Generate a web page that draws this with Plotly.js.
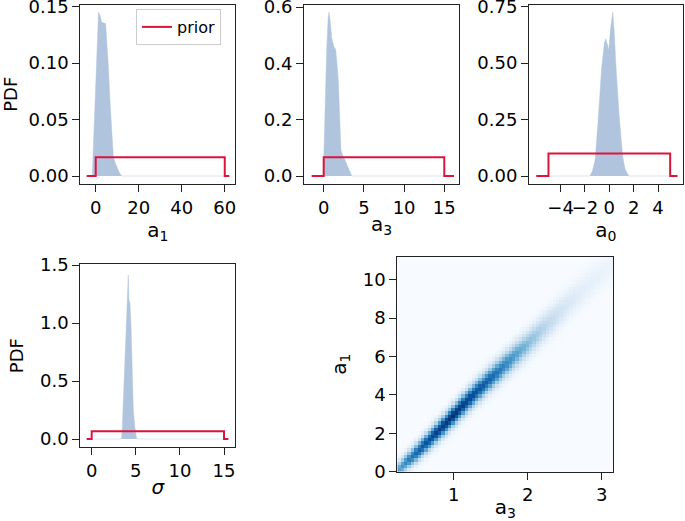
<!DOCTYPE html>
<html>
<head>
<meta charset="utf-8">
<script src="https://cdn.plot.ly/plotly-3.0.1.min.js"></script>
<style>
  html, body { margin: 0; padding: 0; background: #ffffff; }
  #chart { width: 685px; height: 521px; }
</style>
</head>
<body>
<div id="chart"></div>
<script>
// ---- Posterior PDFs ----
const a1X   = [-1.6, -1.0, -0.3, 0.4, 1.0, 1.3, 2.0, 2.8, 4.6, 5.2, 5.9, 6.6, 7.4, 8.2, 9.0, 9.8, 11.0, 12.1, 62.1];
const a1Pdf = [0, 0.03, 0.07, 0.115, 0.142, 0.145, 0.142, 0.136, 0.135, 0.12, 0.097, 0.068, 0.038, 0.017, 0.012, 0.008, 0.003, 0, 0];

const a3X   = [-0.05, 0.05, 0.16, 0.37, 0.55, 0.66, 0.8, 1.0, 1.28, 1.49, 1.65, 1.82, 2.0, 2.15, 2.4, 2.65, 3.06, 3.5, 16.2];
const a3Pdf = [0, 0.1, 0.27, 0.446, 0.56, 0.582, 0.55, 0.49, 0.458, 0.45, 0.4, 0.34, 0.2, 0.092, 0.07, 0.057, 0.028, 0, 0];

const a0X   = [-6.0, -1.6, -1.4, -1.17, -0.9, -0.63, -0.4, -0.3, -0.15, -0.05, 0.1, 0.28, 0.4, 0.55, 0.82, 1.1, 1.3, 1.6, 5.6];
const a0Pdf = [0, 0, 0.02, 0.07, 0.26, 0.48, 0.59, 0.607, 0.58, 0.556, 0.65, 0.725, 0.64, 0.48, 0.26, 0.085, 0.03, 0, 0];

const sigX   = [-0.57, 3.38, 3.47, 3.62, 3.78, 3.9, 4.0, 4.1, 4.15, 4.22, 4.34, 4.46, 4.6, 4.72, 4.9, 5.1, 15.5];
const sigPdf = [0, 0, 0.1, 0.4, 0.68, 0.95, 1.2, 1.38, 1.414, 1.2, 1.17, 0.97, 0.6, 0.25, 0.1, 0, 0];

// ---- Uniform priors (step lines, 'hv') ----
const priorA1X = [-4.2, 0, 60, 62.1];
const priorA1Y = [0, 1/60, 0, 0];
const priorA3X = [-1.5, 0, 15, 16.2];
const priorA3Y = [0, 1/15, 0, 0];
const priorA0X = [-6.0, -5, 5, 5.6];
const priorA0Y = [0, 0.1, 0, 0];
const priorSigX = [-0.57, 0, 15, 15.5];
const priorSigY = [0, 1/15, 0, 0];

// ---- Joint a3–a1 density ridge ----
const ridgeA3    = [0.24, 0.5, 0.75, 1.0, 1.25, 1.5, 1.75, 2.0, 2.25, 2.5, 2.75, 3.0, 3.16];
const ridgeA1    = [0.05, 1.0, 1.95, 2.95, 3.95, 4.85, 5.75, 6.65, 7.6, 8.55, 9.45, 10.3, 10.85];
const ridgePeak  = [0.55, 0.8, 0.93, 1.0, 0.9, 0.8, 0.64, 0.45, 0.28, 0.16, 0.1, 0.07, 0.05];
const ridgeWidth = [0.3, 0.33, 0.36, 0.38, 0.4, 0.42, 0.44, 0.46, 0.5, 0.53, 0.55, 0.56, 0.56];
const binsA3 = [0.238, 3.157, 64];
const binsA1 = [0, 11.2, 64];

function interp(xs, ys, x) {
  if (x <= xs[0]) return ys[0];
  for (let i = 1; i < xs.length; i++) {
    if (x <= xs[i]) {
      const t = (x - xs[i-1]) / (xs[i] - xs[i-1]);
      return ys[i-1] + t * (ys[i] - ys[i-1]);
    }
  }
  return ys[ys.length - 1];
}
const hx = [], hy = [], hz = [];
const dx = (binsA3[1] - binsA3[0]) / binsA3[2];
const dy = (binsA1[1] - binsA1[0]) / binsA1[2];
for (let i = 0; i < binsA3[2]; i++) hx.push(binsA3[0] + (i + 0.5) * dx);
for (let j = 0; j < binsA1[2]; j++) hy.push(binsA1[0] + (j + 0.5) * dy);
for (let j = 0; j < hy.length; j++) {
  const row = [];
  for (let i = 0; i < hx.length; i++) {
    const c = interp(ridgeA3, ridgeA1, hx[i]);
    const p = interp(ridgeA3, ridgePeak, hx[i]);
    const w = interp(ridgeA3, ridgeWidth, hx[i]);
    const u = (hy[j] - c) / w;
    row.push(p * Math.exp(-0.5 * u * u));
  }
  hz.push(row);
}

const fillCol = '#b0c4de';
const priorCol = '#dc143c';

function pdfTrace(x, y, xa, ya) {
  return { x: x, y: y, xaxis: xa, yaxis: ya, type: 'scatter', mode: 'lines',
           fill: 'tozeroy', fillcolor: fillCol, line: { color: 'rgba(176,196,222,0.45)', width: 1 },
           showlegend: false, hoverinfo: 'skip' };
}
function priorTrace(x, y, xa, ya, show) {
  return { x: x, y: y, xaxis: xa, yaxis: ya, type: 'scatter', mode: 'lines', name: 'prior',
           line: { color: priorCol, width: 2, shape: 'hv' }, showlegend: show };
}

const data = [
  pdfTrace(a1X, a1Pdf, 'x', 'y'),
  pdfTrace(a3X, a3Pdf, 'x2', 'y2'),
  pdfTrace(a0X, a0Pdf, 'x3', 'y3'),
  pdfTrace(sigX, sigPdf, 'x4', 'y4'),
  priorTrace(priorA1X, priorA1Y, 'x', 'y', true),
  priorTrace(priorA3X, priorA3Y, 'x2', 'y2', false),
  priorTrace(priorA0X, priorA0Y, 'x3', 'y3', false),
  priorTrace(priorSigX, priorSigY, 'x4', 'y4', false),
  { type: 'heatmap', x: hx, y: hy, z: hz, xaxis: 'x5', yaxis: 'y5', zmin: 0, zmax: 1,
    zsmooth: false, showscale: false, hoverinfo: 'skip',
    colorscale: [[0, '#f7fbff'], [0.125, '#deebf7'], [0.25, '#c6dbef'], [0.375, '#9ecae1'],
                 [0.5, '#6baed6'], [0.625, '#4292c6'], [0.75, '#2171b5'], [0.875, '#08519c'], [1, '#08306b']] }
];

const W = 685, H = 521;
function dX(a, b) { return [a / W, b / W]; }
function dY(top, bottom) { return [1 - bottom / H, 1 - top / H]; }
const F = { family: 'DejaVu Sans, sans-serif', size: 18, color: '#000' };
const FT = { family: 'DejaVu Sans, sans-serif', size: 20, color: '#000' };
const FL = { family: 'DejaVu Sans, sans-serif', size: 16, color: '#000' };

function ax(extra) {
  return Object.assign({
    showline: true, mirror: true, linecolor: '#222', linewidth: 1,
    ticks: 'outside', ticklen: 7, tickwidth: 1, tickcolor: '#222',
    showgrid: false, zeroline: false, tickfont: F, fixedrange: true,
    tickangle: 0, ticklabeloverflow: 'allow'
  }, extra);
}

const layout = {
  width: W, height: H,
  margin: { l: 0, r: 0, t: 0, b: 0 },
  paper_bgcolor: '#fff', plot_bgcolor: '#fff',
  font: F,
  showlegend: true,
  legend: { x: 136 / W, y: 1 - 9 / H, xanchor: 'left', yanchor: 'top',
            bgcolor: 'rgba(255,255,255,0.9)', bordercolor: '#cccccc', borderwidth: 1,
            font: FL, itemwidth: 30 },
  xaxis:  ax({ domain: dX(80.3, 235.3), anchor: 'y', range: [-7.16, 64.9], tickvals: [0, 20, 40, 60],
               title: { text: 'a<sub>1</sub>', font: FT, standoff: 0 } }),
  yaxis:  ax({ domain: dY(4.5, 184), anchor: 'x', range: [-0.00706, 0.1518], tickvals: [0, 0.05, 0.1, 0.15],
               tickformat: '.2f', title: { text: 'PDF', font: F, standoff: 11 } }),
  xaxis2: ax({ domain: dX(304, 459), anchor: 'y2', range: [-2.45, 16.83], tickvals: [0, 5, 10, 15],
               title: { text: 'a<sub>3</sub>', font: FT, standoff: 0 } }),
  yaxis2: ax({ domain: dY(4.5, 184), anchor: 'x2', range: [-0.0284, 0.609], tickvals: [0, 0.2, 0.4, 0.6],
               tickformat: '.1f' }),
  xaxis3: ax({ domain: dX(529, 682.7), anchor: 'y3', range: [-6.6, 6.03], tickvals: [-4, -2, 0, 2, 4],
               title: { text: 'a<sub>0</sub>', font: FT, standoff: 0 } }),
  yaxis3: ax({ domain: dY(4.5, 184), anchor: 'x3', range: [-0.0353, 0.759], tickvals: [0, 0.25, 0.5, 0.75],
               tickformat: '.2f' }),
  xaxis4: ax({ domain: dX(80.3, 235.3), anchor: 'y4', range: [-1.29, 16.28], tickvals: [0, 5, 10, 15],
               title: { text: '<i>σ</i>', font: FT, standoff: 0 } }),
  yaxis4: ax({ domain: dY(264, 447.3), anchor: 'x4', range: [-0.0716, 1.509], tickvals: [0, 0.5, 1, 1.5],
               tickformat: '.1f', title: { text: 'PDF', font: F, standoff: 11 } }),
  xaxis5: ax({ domain: dX(397.3, 613.3), anchor: 'y5', range: [0.238, 3.157], tickvals: [1, 2, 3],
               title: { text: 'a<sub>3</sub>', font: FT, standoff: 0 } }),
  yaxis5: ax({ domain: dY(256.7, 471.7), anchor: 'x5', range: [0, 11.2], tickvals: [0, 2, 4, 6, 8, 10],
               title: { text: 'a<sub>1</sub>', font: FT, standoff: 10 } })
};

Plotly.newPlot('chart', data, layout, { displayModeBar: false, staticPlot: true });
</script>
</body>
</html>
